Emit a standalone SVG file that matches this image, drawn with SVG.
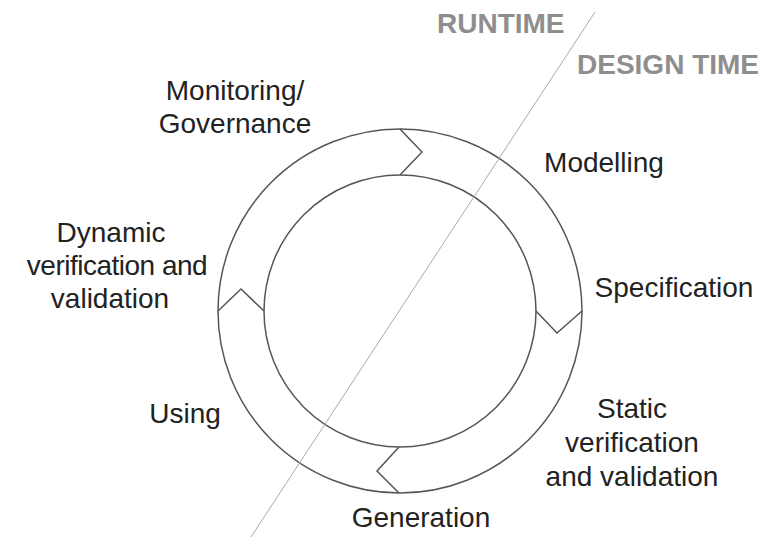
<svg xmlns="http://www.w3.org/2000/svg" width="766" height="546" viewBox="0 0 766 546">
<style>
.lbl{font-family:"Liberation Sans",Arial,sans-serif;font-size:28px;fill:#222;text-anchor:middle}
.zone{font-family:"Liberation Sans",Arial,sans-serif;font-size:28px;font-weight:bold;fill:#8e8e8e}
.ring{fill:none;stroke:#555;stroke-width:1.5}
.chev{fill:none;stroke:#555;stroke-width:1.5;stroke-linejoin:miter}
.div{stroke:#aaa;stroke-width:1}
</style>
<rect width="766" height="546" fill="#fff"/>
<g id="cycle">
<circle class="ring" cx="400" cy="311" r="182"/>
<circle class="ring" cx="400" cy="311" r="136"/>
</g>
<g id="connectors">
<polyline class="chev" points="400,129 422,152 400,175"/>
<polyline class="chev" points="582,311 557,333 536,311"/>
<polyline class="chev" points="399,493 377,471 399,447"/>
<polyline class="chev" points="218,311 241,289 264,311"/>
<line class="div" x1="595" y1="12" x2="251" y2="537"/>
</g>
<g id="zones">
<text class="zone" x="437" y="33">RUNTIME</text>
<text class="zone" x="577" y="74">DESIGN TIME</text>
</g>
<g id="monitoring"><text class="lbl" x="235" y="100">Monitoring/</text><text class="lbl" x="235" y="133">Governance</text></g>
<g id="modelling"><text class="lbl" x="604" y="172">Modelling</text></g>
<g id="specification"><text class="lbl" x="674" y="297">Specification</text></g>
<g id="static"><text class="lbl" x="632" y="418">Static</text><text class="lbl" x="632" y="452">verification</text><text class="lbl" x="632" y="486">and validation</text></g>
<g id="generation"><text class="lbl" x="421" y="527">Generation</text></g>
<g id="using"><text class="lbl" x="185" y="423">Using</text></g>
<g id="dynamic"><text class="lbl" x="111" y="242">Dynamic</text><text class="lbl" x="117" y="275" letter-spacing="-0.5">verification and</text><text class="lbl" x="110" y="308">validation</text></g>
</svg>
